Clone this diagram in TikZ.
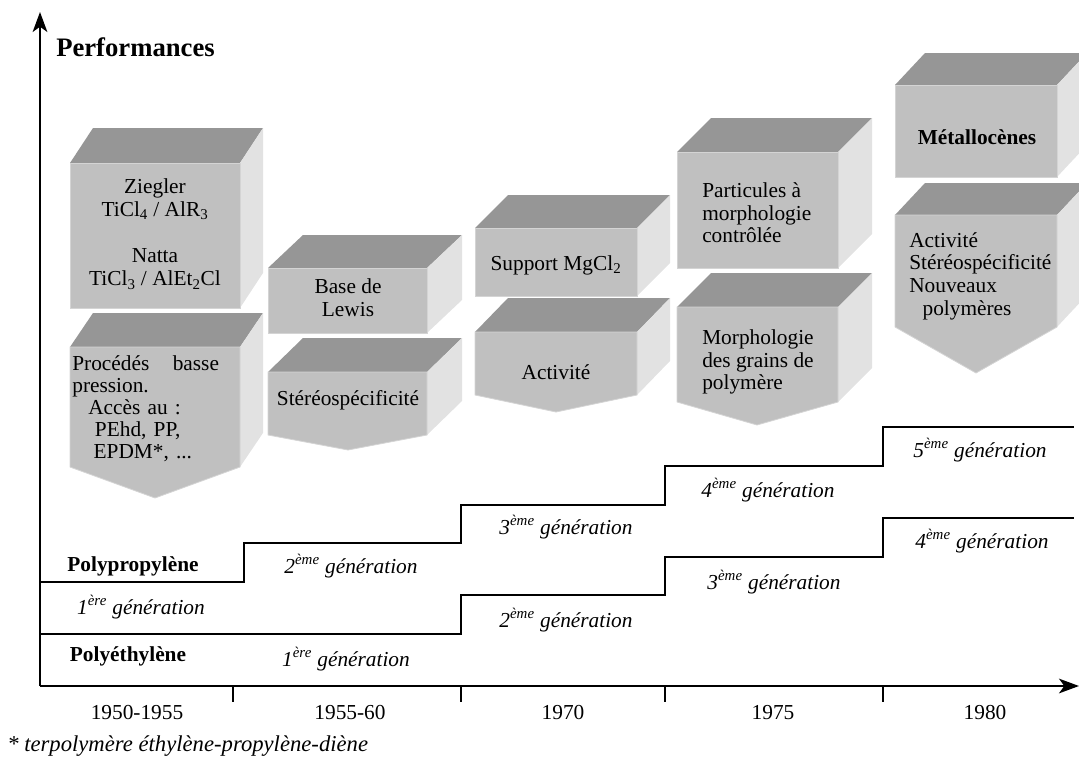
\documentclass[tikz,border=0pt]{standalone}
\usepackage{fontspec}
\setmainfont{Liberation Serif}
\usetikzlibrary{arrows.meta}

\definecolor{facefront}{RGB}{192,192,192}
\definecolor{facetop}{RGB}{150,150,150}
\definecolor{faceside}{RGB}{226,226,226}
\definecolor{faceedge}{RGB}{212,212,212}

\begin{document}
\begin{tikzpicture}[x=0.75pt,y=0.75pt,yscale=-1,xscale=1,
  frontface/.style={fill=facefront,draw=faceedge,line width=0.6pt},
  topface/.style={fill=facetop},
  sideface/.style={fill=faceside},
  txt/.style={font=\fontsize{16}{17}\selectfont,inner sep=0pt},
  gen/.style={font=\fontsize{16}{17}\selectfont\itshape,inner sep=0pt},
  heavy/.style={font=\fontsize{16}{17}\selectfont\bfseries,inner sep=0pt},
  stair/.style={line width=1.4pt},
  axis/.style={line width=1.5pt,-{Stealth[length=15pt,width=11pt,inset=4pt]}}]
\useasboundingbox (0,0) rectangle (1079,760);
\clip (0,0) rectangle (1079,760);

%Shape: Cube [Ziegler]
\fill[topface] (70,163) -- (93,128) -- (263,128) -- (240,163) -- cycle;
\fill[sideface] (240,163) -- (263,128) -- (263,273) -- (240,308) -- cycle;
\draw[frontface] (70,163) -- (240,163) -- (240,308) -- (70,308) -- cycle;
%Shape: Pentagon [Procedes]
\fill[topface] (70,347) -- (93,313) -- (263,313) -- (240,347) -- cycle;
\fill[sideface] (240,347) -- (263,313) -- (263,433) -- (240,467) -- cycle;
\draw[frontface] (70,347) -- (240,347) -- (240,467) -- (155,498) -- (70,467) -- cycle;

%Shape: Cube [Lewis]
\fill[topface] (268,268) -- (303,235) -- (462,235) -- (427,268) -- cycle;
\fill[sideface] (427,268) -- (462,235) -- (462,300) -- (427,333) -- cycle;
\draw[frontface] (268,268) -- (427,268) -- (427,333) -- (268,333) -- cycle;
%Shape: Pentagon [Stereo]
\fill[topface] (268,372) -- (303,338) -- (462,338) -- (427,372) -- cycle;
\fill[sideface] (427,372) -- (462,338) -- (462,401) -- (427,435) -- cycle;
\draw[frontface] (268,372) -- (427,372) -- (427,435) -- (348,450) -- (268,435) -- cycle;

%Shape: Cube [MgCl2]
\fill[topface] (475,228) -- (508,195) -- (670,195) -- (637,228) -- cycle;
\fill[sideface] (637,228) -- (670,195) -- (670,263) -- (637,296) -- cycle;
\draw[frontface] (475,228) -- (637,228) -- (637,296) -- (475,296) -- cycle;
%Shape: Pentagon [Activite]
\fill[topface] (475,332) -- (508,298) -- (670,298) -- (637,332) -- cycle;
\fill[sideface] (637,332) -- (670,298) -- (670,361) -- (637,395) -- cycle;
\draw[frontface] (475,332) -- (637,332) -- (637,395) -- (556,412) -- (475,395) -- cycle;

%Shape: Cube [Particules]
\fill[topface] (677,152) -- (711,118) -- (872,118) -- (838,152) -- cycle;
\fill[sideface] (838,152) -- (872,118) -- (872,234) -- (838,268) -- cycle;
\draw[frontface] (677,152) -- (838,152) -- (838,268) -- (677,268) -- cycle;
%Shape: Pentagon [Morphologie]
\fill[topface] (677,307) -- (711,273) -- (872,273) -- (838,307) -- cycle;
\fill[sideface] (838,307) -- (872,273) -- (872,368) -- (838,402) -- cycle;
\draw[frontface] (677,307) -- (838,307) -- (838,402) -- (757,425) -- (677,402) -- cycle;

%Shape: Cube [Metallocenes]
\fill[topface] (895,85) -- (925,53) -- (1087,53) -- (1057,85) -- cycle;
\fill[sideface] (1057,85) -- (1087,53) -- (1087,145) -- (1057,177) -- cycle;
\draw[frontface] (895,85) -- (1057,85) -- (1057,177) -- (895,177) -- cycle;
%Shape: Pentagon [Nouveaux]
\fill[topface] (895,215) -- (925,183) -- (1087,183) -- (1057,215) -- cycle;
\fill[sideface] (1057,215) -- (1087,183) -- (1087,295) -- (1057,327) -- cycle;
\draw[frontface] (895,215) -- (1057,215) -- (1057,327) -- (976,373) -- (895,327) -- cycle;

%Straight Lines [axes]
\coordinate (orig) at (40,686);
\coordinate (ytop) at (40,12);
\coordinate (xend) at (1079,686);
\draw[axis] (orig) -- (ytop);
\draw[axis] (orig) -- (xend);
\foreach \tx in {233,461,665,883}
  \draw[line width=1.2pt] (\tx,686) -- (\tx,702);

%Straight Lines [polyethylene]
\draw[stair] (40,634) -- (461,634) -- (461,595) -- (665,595) -- (665,557) -- (883,557) -- (883,518) -- (1074,518);
%Straight Lines [polypropylene]
\draw[stair] (40,582) -- (244,582) -- (244,543) -- (461,543) -- (461,505) -- (665,505) -- (665,466) -- (883,466) -- (883,427) -- (1074,427);

% Text Node
\draw (56,47) node (perf) [anchor=west,inner sep=0pt,font=\fontsize{20}{22}\selectfont\bfseries] {Performances};

% Text Node
\draw (155,234) node (zieg) [txt,align=center,font=\fontsize{16}{17.3}\selectfont] {Ziegler\\TiCl\textsubscript{4} / AlR\textsubscript{3}\\[17.3pt]Natta\\TiCl\textsubscript{3} / AlEt\textsubscript{2}Cl};
% Text Node
\draw (155,409) node (proc) [txt,text width=124pt,align=left,font=\fontsize{16}{16.5}\selectfont] {\makebox[110pt][l]{Procédés\hfill basse}\\pression.\\\hspace*{12pt}Accès au :\\\hspace*{17pt}PEhd, PP,\\\hspace*{16pt}EPDM*, ...};
% Text Node
\draw (348,298) node (lewis) [txt,align=center] {Base de\\Lewis};
% Text Node
\draw (348,400) node (stereo) [txt] {Stéréospécificité};
% Text Node
\draw (556,265) node (mgcl) [txt] {Support MgCl\textsubscript{2}};
% Text Node
\draw (556,372) node (activ) [txt] {Activité};
% Text Node
\draw (702,213) node (partic) [txt,anchor=west,align=left] {Particules à\\morphologie\\contrôlée};
% Text Node
\draw (702,362) node (morph) [txt,anchor=west,align=left] {Morphologie\\des grains de\\polymère};
% Text Node
\draw (977,137) node (metal) [heavy] {Métallocènes};
% Text Node
\draw (909,276) node (nouv) [txt,anchor=west,align=left] {Activité\\Stéréospécificité\\Nouveaux\\\hspace*{10pt}polymères};

% Text Node
\draw (133,566) node (pp) [heavy] {Polypropylène};
% Text Node
\draw (128,656) node (pe) [heavy] {Polyéthylène};
% Text Node
\draw (141,607) node (ppa) [gen] {1\textsuperscript{ère} génération};
\draw (351,566) node (ppb) [gen] {2\textsuperscript{ème} génération};
\draw (566,527) node (ppc) [gen] {3\textsuperscript{ème} génération};
\draw (768,490) node (ppd) [gen] {4\textsuperscript{ème} génération};
\draw (980,450) node (ppe) [gen] {5\textsuperscript{ème} génération};
% Text Node
\draw (346,659) node (pea) [gen] {1\textsuperscript{ère} génération};
\draw (566,620) node (peb) [gen] {2\textsuperscript{ème} génération};
\draw (774,582) node (pec) [gen] {3\textsuperscript{ème} génération};
\draw (982,541) node (ped) [gen] {4\textsuperscript{ème} génération};

% Text Node
\draw (137,713) node (ya) [txt] {1950-1955};
\draw (350,713) node (yb) [txt] {1955-60};
\draw (563,713) node (yc) [txt] {1970};
\draw (773,713) node (yd) [txt] {1975};
\draw (985,713) node (ye) [txt] {1980};

% Text Node
\draw (7,746) node (foot) [gen,anchor=west,font=\fontsize{17}{18}\selectfont\itshape] {* terpolymère éthylène-propylène-diène};
\end{tikzpicture}
\end{document}
